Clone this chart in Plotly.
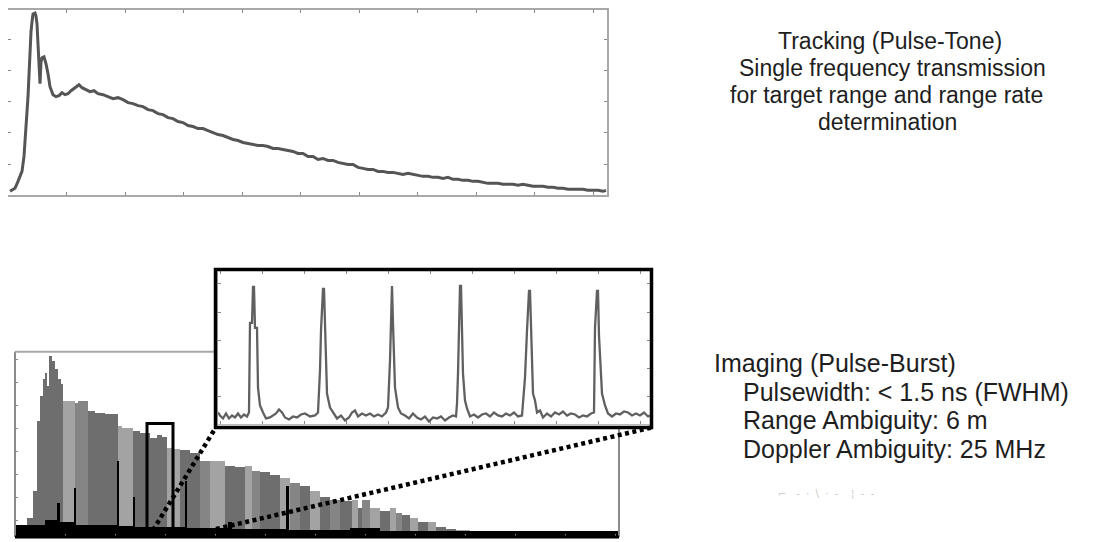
import plotly.graph_objects as go

# page geometry: the browser adds an 8px body margin, so the figure is drawn
# 8px smaller and every pixel position below is measured on the full page.
PAGE_W, PAGE_H = 1095, 542
OFF = 8
FW, FH = PAGE_W - OFF, PAGE_H - OFF

# ---------------- Top panel: tracking (pulse-tone) return ----------------
track_t = [2, 7, 10, 14, 16, 18, 19, 20, 21, 22, 23, 24, 25, 27, 28, 29, 30, 31, 32, 33, 34,
           36, 38, 40, 42, 45, 48, 51, 54, 57, 60, 63, 67, 71, 74, 78, 82, 86, 90, 95, 100,
           105, 110, 115, 120, 125, 130, 135, 140, 145, 150, 155, 160, 165, 170, 175, 180,
           185, 190, 195, 200, 205, 210, 215, 220, 225, 230, 235, 240, 245, 250, 255, 260,
           265, 270, 275, 280, 285, 290, 295, 300, 305, 310, 315, 320, 325, 330, 335, 340,
           345, 350, 355, 360, 365, 370, 375, 380, 385, 390, 395, 400, 405, 410, 415, 420,
           425, 430, 435, 440, 445, 450, 455, 460, 465, 470, 475, 480, 485, 490, 495, 500,
           505, 510, 515, 520, 525, 530, 535, 540, 545, 550, 555, 560, 565, 570, 575, 580,
           585, 590, 595, 598]
track_amp = [4, 7, 14, 24, 39, 64, 84, 99, 124, 149, 164, 174, 182, 183, 180, 172, 154, 124,
             112, 134, 138, 139, 132, 122, 109, 101, 99, 100, 103, 101, 102, 105, 108, 111,
             108, 106, 104, 105, 102, 101, 99, 97, 98, 96, 93, 92, 90, 89, 86, 85, 82, 81,
             78, 77, 74, 73, 70, 69, 67, 67, 65, 63, 61, 60, 58, 56, 55, 53, 52, 51, 50, 50,
             49, 47, 47, 46, 45, 44, 42, 42, 39, 39, 36, 37, 35, 35, 33, 32, 31, 31, 28, 27,
             26, 26, 24, 24, 23, 23, 22, 21, 22, 21, 20, 19, 19, 18, 18, 17, 18, 16, 16, 15,
             15, 14, 14, 13, 12, 12, 12, 11, 11, 11, 10, 11, 10, 9, 9, 9, 8, 8, 7, 7, 6, 6, 6,
             6, 5, 5, 5, 4, 5]

# ---------------- Bottom panel: imaging (pulse-burst) envelope ----------------
burst_edges = [0, 1.2, 1.8, 2.2, 2.5, 2.8, 3.0, 3.2, 3.4, 3.7, 4.0, 4.3, 4.6, 4.8, 6.0, 6.3,
               7.3, 8.0, 9.0, 10.3, 10.7, 11.8, 12.5, 13.5, 14.2, 14.7, 15.2, 15.7, 16.5,
               17.5, 18.5, 19.5, 21.0, 22.0, 23.0, 23.7, 24.5, 25.5, 26.5, 27.5, 28.5, 29.5,
               30.5, 31.5, 32.5, 33.7, 34.3, 34.7, 35.5, 36.5, 37.5, 38.1, 38.7, 39.5, 40.3,
               41.3, 42.1, 43.1, 44.1, 45.5, 46.5, 48.5, 50.5, 52.5, 54.5, 56.5, 58.5, 60.4]
burst_amp = [0.30, 0.83, 2.04, 5.09, 6.17, 6.91, 7.17, 6.61, 7.91, 7.70,
             7.35, 6.91, 6.70, 5.96, 5.87, 5.96, 5.52, 5.43, 5.39, 4.87,
             4.78, 4.65, 4.57, 4.35, 4.48, 4.39, 3.91, 3.87, 3.83, 3.70,
             3.35, 3.35, 3.13, 3.09, 3.13, 2.91, 2.83, 2.70, 2.57, 2.39,
             2.22, 2.04, 1.74, 1.61, 1.57, 1.61, 1.30, 1.61, 1.30, 1.17,
             1.26, 1.04, 0.96, 0.83, 0.65, 0.65, 0.43, 0.35, 0.30, 0.26,
             0.26, 0.22, 0.22, 0.17, 0.22, 0.17, 0.17]
burst_tone = "lddddddddddddlmmdddlldddddllddmlddlmddlmdldmdldmldlmdldlddlllllllll"

floor_edges = [0, 3.0, 4.2, 4.5, 5.9, 6.1, 10.2, 10.4, 11.8, 12.0, 17.0, 17.2, 21.3, 21.7,
               27.1, 27.4, 33.5, 36.5, 60.4]
floor_amp = [0.55, 0.74, 1.48, 0.65, 2.17, 0.55, 3.35, 0.50, 1.74, 0.45, 2.48, 0.40,
             0.65, 0.36, 2.26, 0.33, 0.39, 0.26]

# zoom window inside the burst (bottom-panel data units)
zoom_win_t = [13.2, 15.8]
zoom_win_amp = [0.26, 4.96]

# ---------------- Inset: six pulses of the burst ----------------
inset_t = [0, 2, 5, 8, 11, 14, 17, 20, 23, 26, 29, 31, 32, 34, 35, 36, 37, 39, 40, 42, 45, 48,
           52, 55, 58, 61, 64, 67, 71, 75, 79, 83, 87, 92, 97, 100, 102, 103, 105, 106, 107,
           109, 112, 115, 119, 123, 127, 131, 134, 137, 140, 144, 148, 152, 156, 160, 164,
           168, 170, 172, 174, 175, 177, 180, 183, 187, 191, 195, 199, 203, 207, 211, 215,
           219, 223, 227, 231, 235, 238, 239, 240, 242, 243, 245, 247, 249, 252, 256, 260,
           264, 268, 272, 276, 280, 284, 288, 292, 296, 300, 304, 307, 309, 311, 312, 314,
           315, 317, 319, 322, 325, 329, 333, 337, 341, 345, 349, 353, 357, 361, 365, 369,
           373, 376, 377, 379, 380, 381, 382, 384, 387, 390, 394, 398, 402, 406, 410, 414,
           418, 422, 426, 430, 432]
inset_amp = [12, 9, 6, 11, 6, 9, 7, 11, 7, 10, 8, 12, 102, 102, 138, 138, 97, 97, 37, 19,
             12, 6, 7, 9, 11, 15, 12, 7, 5, 8, 7, 10, 11, 8, 9, 12, 54, 94, 136, 136, 94,
             31, 17, 12, 6, 9, 4, 7, 12, 14, 8, 11, 9, 11, 8, 10, 8, 12, 17, 64, 139, 101,
             37, 17, 11, 9, 6, 11, 7, 5, 8, 3, 7, 6, 8, 4, 7, 9, 8, 21, 51, 139, 139, 51,
             24, 16, 8, 10, 7, 10, 11, 8, 12, 9, 8, 11, 9, 12, 8, 9, 47, 94, 134, 134, 47,
             31, 24, 12, 14, 7, 11, 8, 12, 10, 13, 9, 11, 10, 7, 9, 8, 11, 12, 97, 134, 134,
             89, 64, 31, 19, 11, 8, 11, 10, 13, 12, 9, 11, 9, 12, 8, 9]

# ---------------- text ----------------
tracking_lines = ["Tracking (Pulse-Tone)", "Single frequency transmission",
                  "for target range and range rate", "determination"]
imaging_title = "Imaging (Pulse-Burst)"
imaging_lines = ["Pulsewidth: < 1.5 ns (FWHM)", "Range Ambiguity: 6 m",
                 "Doppler Ambiguity: 25 MHz"]


# ---------------- layout geometry (page pixels -> paper) ----------------
def px(x):
    return (x - OFF) / FW


def py(y):
    return (FH - (y - OFF)) / FH


TOP_X, TOP_Y = [px(8), px(607)], [py(194), py(8)]
BOT_X, BOT_Y = [px(15), px(619)], [py(537), py(351)]
INS_X, INS_Y = [px(218), px(650)], [py(424), py(270)]
BOT_XR = [0, 60.4]
BOT_YR = [0, 8.09]


def bot_to_paper(t, a):
    x = BOT_X[0] + (t - BOT_XR[0]) / (BOT_XR[1] - BOT_XR[0]) * (BOT_X[1] - BOT_X[0])
    y = BOT_Y[0] + (a - BOT_YR[0]) / (BOT_YR[1] - BOT_YR[0]) * (BOT_Y[1] - BOT_Y[0])
    return x, y


fig = go.Figure()

fig.add_trace(go.Scatter(x=track_t, y=track_amp, mode="lines",
                         line=dict(color="#555555", width=3),
                         xaxis="x", yaxis="y", hoverinfo="skip"))

tone_color = {"d": "#6e6e6e", "m": "#858585", "l": "#a3a3a3"}
b_cent = [(burst_edges[i] + burst_edges[i + 1]) / 2 for i in range(len(burst_amp))]
b_wid = [burst_edges[i + 1] - burst_edges[i] for i in range(len(burst_amp))]
fig.add_trace(go.Bar(x=b_cent, y=burst_amp, width=b_wid,
                     marker=dict(color=[tone_color[c] for c in burst_tone],
                                 line=dict(width=0)),
                     xaxis="x2", yaxis="y2", hoverinfo="skip"))

f_cent = [(floor_edges[i] + floor_edges[i + 1]) / 2 for i in range(len(floor_amp))]
f_wid = [floor_edges[i + 1] - floor_edges[i] for i in range(len(floor_amp))]
fig.add_trace(go.Bar(x=f_cent, y=floor_amp, width=f_wid,
                     marker=dict(color="#000000", line=dict(width=0)),
                     xaxis="x2", yaxis="y2", hoverinfo="skip"))

fig.add_trace(go.Scatter(x=inset_t, y=inset_amp, mode="lines",
                         line=dict(color="#606060", width=2.3),
                         xaxis="x3", yaxis="y3", hoverinfo="skip"))

common = dict(showgrid=False, zeroline=False, showticklabels=False, ticks="inside",
              ticklen=3, tickcolor="#888888", tickwidth=1)

fig.update_layout(
    width=FW, height=FH, autosize=False,
    margin=dict(l=0, r=0, t=0, b=0),
    paper_bgcolor="white", plot_bgcolor="white",
    showlegend=False, barmode="overlay", bargap=0,
    xaxis=dict(domain=TOP_X, range=[0, 599], dtick=58.5, anchor="y",
               showline=True, mirror="ticks", linecolor="#a8a8a8", linewidth=2, **common),
    yaxis=dict(domain=TOP_Y, range=[0, 186], dtick=31.33, anchor="x",
               showline=True, mirror="ticks", linecolor="#a8a8a8", linewidth=2, **common),
    xaxis2=dict(domain=BOT_X, range=BOT_XR, dtick=5, anchor="y2", showline=False, **common),
    yaxis2=dict(domain=BOT_Y, range=BOT_YR, tick0=0.74, dtick=1, anchor="x2",
                showline=False, **common),
    xaxis3=dict(domain=INS_X, range=[0, 432], dtick=42, tick0=2, anchor="y3",
                showline=True, mirror="ticks", linecolor="#bbbbbb", linewidth=1, **common),
    yaxis3=dict(domain=INS_Y, range=[0, 154], dtick=28.2, anchor="x3",
                showline=True, mirror="ticks", linecolor="#bbbbbb", linewidth=1, **common),
)

shapes = []
bl, br = BOT_X
bb, bt = BOT_Y
shapes.append(dict(type="line", xref="paper", yref="paper", x0=bl, x1=bl, y0=bb, y1=bt,
                   line=dict(color="#8a8a8a", width=2)))
shapes.append(dict(type="line", xref="paper", yref="paper", x0=bl, x1=px(214), y0=bt, y1=bt,
                   line=dict(color="#a8a8a8", width=2)))
shapes.append(dict(type="line", xref="paper", yref="paper", x0=br, x1=br, y0=bb, y1=py(428),
                   line=dict(color="#8a8a8a", width=2)))
shapes.append(dict(type="line", xref="paper", yref="paper", x0=bl, x1=br, y0=bb, y1=bb,
                   line=dict(color="#000000", width=3)))

# zoom window box
shapes.append(dict(type="rect", xref="x2", yref="y2",
                   x0=zoom_win_t[0], x1=zoom_win_t[1], y0=zoom_win_amp[0], y1=zoom_win_amp[1],
                   line=dict(color="#000000", width=3)))

# inset thick box
shapes.append(dict(type="rect", xref="paper", yref="paper", x0=px(215.5), x1=px(651.5),
                   y0=py(427), y1=py(268.5), line=dict(color="#000000", width=3.5)))

# dotted connectors from the burst to the inset
s1 = bot_to_paper(13.8, 0.30)
s2 = bot_to_paper(20.1, 0.35)
for (sx, sy), (ex, ey) in [(s1, (px(214), py(430))), (s2, (px(652), py(427)))]:
    shapes.append(dict(type="line", xref="paper", yref="paper", x0=sx, y0=sy, x1=ex, y1=ey,
                       line=dict(color="#000000", width=4.5, dash="4px,3.5px")))

fig.update_layout(shapes=shapes)

font_top = dict(family="Liberation Sans, Arial, sans-serif", size=23, color="#1e1e1e")
font_bot = dict(family="Liberation Sans, Arial, sans-serif", size=25, color="#1e1e1e")
track_cx = [890, 892, 886, 887]
ann = []
for i, line in enumerate(tracking_lines):
    ann.append(dict(text=line, xref="paper", yref="paper", x=px(track_cx[i]),
                    y=py(39 + 27 * i), xanchor="center", yanchor="middle",
                    showarrow=False, borderpad=0, font=font_top))
ann.append(dict(text=imaging_title, xref="paper", yref="paper", x=px(713), y=py(362),
                xanchor="left", yanchor="middle", showarrow=False, borderpad=0, font=font_bot))
for i, line in enumerate(imaging_lines):
    ann.append(dict(text=line, xref="paper", yref="paper", x=px(742), y=py(391 + 29 * i),
                    xanchor="left", yanchor="middle", showarrow=False, borderpad=0,
                    font=font_bot))
ann.append(dict(text="⌐   ‐  ·  \\  ·  ‐    ¦  ‐  ‐", xref="paper", yref="paper",
                x=px(776), y=py(493), xanchor="left", yanchor="middle", showarrow=False,
                font=dict(family="DejaVu Sans", size=10, color="#c8c8c8")))
fig.update_layout(annotations=ann)

fig.write_html("out.html")
